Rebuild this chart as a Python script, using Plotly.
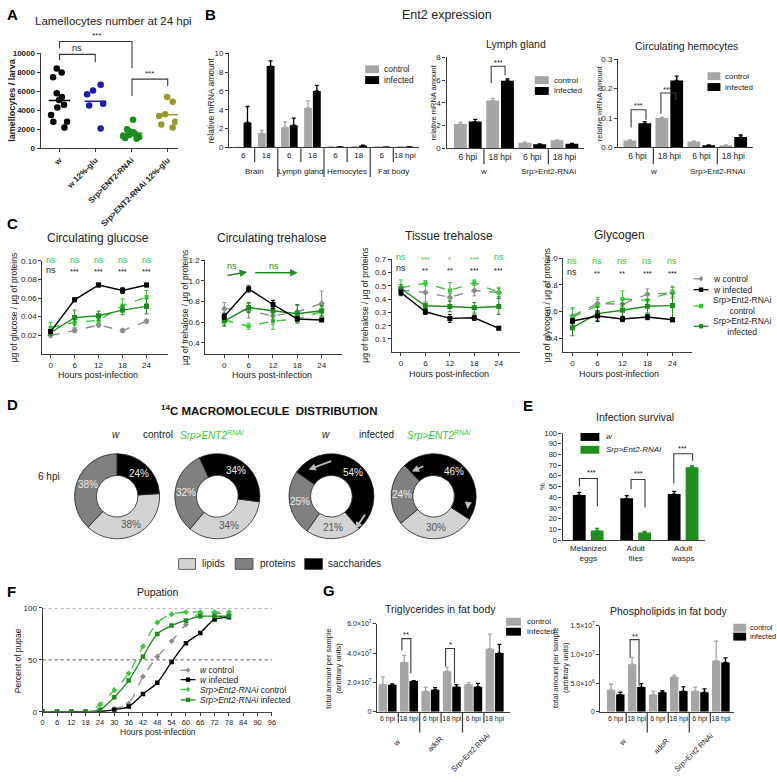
import math
import plotly.graph_objects as go

W, H = 777, 782
def fx(p): return p / W
def fy(p): return 1 - p / H

FONT = "Liberation Sans, Arial, sans-serif"
AX = "#3a3a3a"
CTRL = "#a6a6a6"
INF = "#000000"
LG = "#36c936"
DG = "#1e8c1e"
WC = "#8c8c8c"
EG = "#1f8f1f"

# ---------------- DATA ----------------
# A: lamellocytes
A_labels = ["w", "w 12%-glu", "Srp>ENT2-RNAi", "Srp>ENT2-RNAi 12%-glu"]
A_w = [8400, 8000, 7500, 5800, 5400, 5100, 4600, 4300, 3500, 2800, 2800, 2200]
A_w_glu = [6700, 6100, 5700, 4700, 4500, 2100]
A_srp = [3000, 2000, 1800, 1700, 1600, 1500, 1400, 1300, 1200, 1100, 1000]
A_srp_glu = [5400, 4900, 3600, 3400, 2800, 2500, 2200]
A_colors = ["#000000", "#1c1ca8", "#1e8c1e", "#9a9a2e"]
A_yticks = [0, 2000, 4000, 6000, 8000, 10000]

# B1: Ent2 expression by tissue
B1_ticks = ["6", "18", "6", "18", "6", "18", "6", "18 hpi"]
B1_tissues = ["Brain", "Lymph gland", "Hemocytes", "Fat body"]
B1_ctrl = [0, 1.5, 2.15, 4.2, 0.03, 0.06, 0.01, 0.04]
B1_ctrl_err = [0, 0.3, 0.55, 0.75, 0.01, 0.02, 0.01, 0.01]
B1_inf = [2.65, 8.65, 2.35, 6.0, 0.05, 0.2, 0.02, 0.04]
B1_inf_err = [1.7, 0.55, 0.75, 0.6, 0.01, 0.03, 0.01, 0.01]

# B2: lymph gland
B_ticks = ["6 hpi", "18 hpi", "6 hpi", "18 hpi"]
B_genos = ["w", "Srp>Ent2-RNAi"]
B2_ctrl = [2.15, 4.2, 0.5, 0.7]
B2_ctrl_err = [0.15, 0.2, 0.05, 0.05]
B2_inf = [2.35, 5.95, 0.35, 0.4]
B2_inf_err = [0.2, 0.15, 0.03, 0.03]

# B3: circulating hemocytes
B3_ctrl = [0.023, 0.1, 0.02, 0.007]
B3_ctrl_err = [0.002, 0.002, 0.002, 0.001]
B3_inf = [0.082, 0.228, 0.007, 0.035]
B3_inf_err = [0.006, 0.015, 0.001, 0.007]

# C: metabolites over time
C_hours = [0, 6, 12, 18, 24]
glu_wc = [0.020, 0.025, 0.031, 0.025, 0.035]
glu_wc_err = [0.002, 0.002, 0.002, 0.002, 0.002]
glu_wi = [0.024, 0.058, 0.074, 0.068, 0.074]
glu_wi_err = [0.002, 0.002, 0.002, 0.003, 0.002]
glu_sc = [0.028, 0.034, 0.036, 0.052, 0.061]
glu_sc_err = [0.006, 0.006, 0.003, 0.007, 0.007]
glu_si = [0.023, 0.039, 0.041, 0.047, 0.051]
glu_si_err = [0.003, 0.008, 0.005, 0.005, 0.008]

tre_wc = [0.73, 0.71, 0.66, 0.70, 0.78]
tre_wc_err = [0.06, 0.07, 0.08, 0.06, 0.12]
tre_wi = [0.655, 0.92, 0.77, 0.63, 0.62]
tre_wi_err = [0.03, 0.03, 0.04, 0.02, 0.01]
tre_sc = [0.62, 0.56, 0.61, 0.63, 0.70]
tre_sc_err = [0.05, 0.03, 0.08, 0.03, 0.05]
tre_si = [0.61, 0.74, 0.71, 0.68, 0.71]
tre_si_err = [0.05, 0.05, 0.10, 0.09, 0.05]

tis_wc = [0.47, 0.45, 0.415, 0.465, 0.45]
tis_wc_err = [0.02, 0.07, 0.03, 0.04, 0.03]
tis_wi = [0.45, 0.305, 0.255, 0.26, 0.18]
tis_wi_err = [0.02, 0.02, 0.03, 0.02, 0.01]
tis_sc = [0.485, 0.52, 0.465, 0.525, 0.45]
tis_sc_err = [0.06, 0.02, 0.06, 0.02, 0.04]
tis_si = [0.48, 0.35, 0.345, 0.335, 0.345]
tis_si_err = [0.03, 0.02, 0.04, 0.04, 0.06]

gly_wc = [0.57, 0.66, 0.655, 0.73, 0.74]
gly_wc_err = [0.05, 0.03, 0.04, 0.04, 0.04]
gly_wi = [0.53, 0.567, 0.545, 0.56, 0.54]
gly_wi_err = [0.02, 0.04, 0.02, 0.02, 0.015]
gly_sc = [0.56, 0.645, 0.695, 0.685, 0.75]
gly_sc_err = [0.07, 0.06, 0.06, 0.05, 0.04]
gly_si = [0.48, 0.585, 0.61, 0.64, 0.645]
gly_si_err = [0.06, 0.05, 0.05, 0.05, 0.09]

glu_sig_g = ["ns", "ns", "ns", "ns", "ns"]
glu_sig_k = ["ns", "***", "***", "***", "***"]
tis_sig_g = ["ns", "***", "*", "***", "ns"]
tis_sig_k = ["ns", "**", "**", "***", "***"]
gly_sig_g = ["ns", "ns", "ns", "ns", "ns"]
gly_sig_k = ["ns", "**", "**", "***", "***"]

# D: 14C distribution (lipids, proteins, saccharides)
D_labels = ["lipids", "proteins", "saccharides"]
D_colors = ["#d3d3d3", "#808080", "#000000"]
D_w_ctrl = [38, 38, 24]
D_srp_ctrl = [34, 32, 34]
D_w_inf = [21, 25, 54]
D_srp_inf = [30, 24, 46]

# E: infection survival
E_cats = ["Melanized<br>eggs", "Adult<br>flies", "Adult<br>wasps"]
E_w = [42, 39, 43]
E_w_err = [2.5, 2.5, 2.5]
E_srp = [9, 7, 68]
E_srp_err = [2, 1, 1.5]

# F: pupation
F_hours = [0, 6, 12, 18, 24, 30, 36, 42, 48, 54, 60, 66, 72, 78]
F_wc = [0, 0, 0, 0, 0, 3, 8, 34, 53, 68, 84, 95, 95, 94]
F_wi = [0, 0, 0, 0, 0, 2, 5, 17, 28, 48, 66, 76, 89, 91]
F_sc = [0, 0, 0, 0, 7, 21, 37, 63, 86, 94, 96, 96, 96, 96]
F_si = [0, 0, 0, 0, 2, 14, 30, 53, 75, 83, 88, 92, 92, 92]
F_names = ["<i>w</i> control", "<i>w</i> infected", "<i>Srp>Ent2-RNAi</i> control", "<i>Srp>Ent2-RNAi</i> infected"]

# G: lipids in fat body
G_ticks = ["6 hpi", "18 hpi", "6 hpi", "18 hpi", "6 hpi", "18 hpi"]
G_genos = ["w", "adoR", "Srp>Ent2 RNAi"]
G1_ctrl = [1.87e7, 3.37e7, 1.4e7, 2.76e7, 1.87e7, 4.3e7]
G1_ctrl_err = [0.51e7, 0.47e7, 0.27e7, 0.29e7, 0.11e7, 1.0e7]
G1_inf = [1.85e7, 2.1e7, 1.5e7, 1.7e7, 1.7e7, 4.0e7]
G1_inf_err = [0.05e7, 0.02e7, 0.15e7, 0.15e7, 0.23e7, 0.6e7]
G2_ctrl = [3.8e6, 8.3e6, 3.0e6, 6.1e6, 3.6e6, 8.9e6]
G2_ctrl_err = [1.0e6, 1.2e6, 0.6e6, 0.3e6, 0.7e6, 3.4e6]
G2_inf = [3.0e6, 4.3e6, 3.4e6, 3.6e6, 3.4e6, 8.6e6]
G2_inf_err = [0.4e6, 0.6e6, 0.3e6, 0.8e6, 0.6e6, 0.8e6]
G1_yticks = [0, 2e7, 4e7, 6e7]
G1_ytext = ["0", "2.0×10<sup>7</sup>", "4.0×10<sup>7</sup>", "6.0×10<sup>7</sup>"]
G2_yticks = [0, 5e6, 1e7, 1.5e7]
G2_ytext = ["0", "5.0×10<sup>6</sup>", "1.0×10<sup>7</sup>", "1.5×10<sup>7</sup>"]

# ---------------- HELPERS ----------------
fig = go.Figure()
axes_layout = {}
shapes = []
annotations = []

def ids(n):
    return ('x' if n == 1 else f'x{n}', 'y' if n == 1 else f'y{n}')

def make_axes(n, xpx, ypx, xr, yr, xt=None, yt=None, xfont=8, yfont=8,
              xangle=0, xticks='outside'):
    xa, ya = ids(n)
    xkey = 'xaxis' if n == 1 else f'xaxis{n}'
    ykey = 'yaxis' if n == 1 else f'yaxis{n}'
    common = dict(showline=True, linecolor=AX, linewidth=1.3, ticklen=3, tickwidth=1.2,
                  tickcolor=AX, showgrid=False, zeroline=False, fixedrange=True)
    xd = dict(domain=[fx(xpx[0]), fx(xpx[1])], range=xr, anchor=ya, ticks=xticks,
              tickfont=dict(family=FONT, size=xfont, color='#222'), tickangle=xangle, **common)
    if xt is not None:
        xd.update(tickmode='array', tickvals=xt[0], ticktext=xt[1])
    yd = dict(domain=[fy(ypx[1]), fy(ypx[0])], range=yr, anchor=xa, ticks='outside',
              tickfont=dict(family=FONT, size=yfont, color='#222'), **common)
    if yt is not None:
        yd.update(tickmode='array', tickvals=yt[0], ticktext=yt[1])
    axes_layout[xkey] = xd
    axes_layout[ykey] = yd

def rect(x0, y0, x1, y1, color, line=None):
    shapes.append(dict(type='rect', xref='paper', yref='paper', x0=fx(x0), x1=fx(x1),
                       y0=fy(y1), y1=fy(y0), fillcolor=color,
                       line=dict(width=0.8 if line else 0, color=line or color)))

def seg(x0, y0, x1, y1, color=AX, width=1.2, dash='solid'):
    shapes.append(dict(type='line', xref='paper', yref='paper', x0=fx(x0), y0=fy(y0),
                       x1=fx(x1), y1=fy(y1), line=dict(color=color, width=width, dash=dash)))

def vsep(n, xv, y0, y1):
    xa, _ = ids(n)
    shapes.append(dict(type='line', xref=xa, yref='paper', x0=xv, x1=xv, y0=fy(y0), y1=fy(y1),
                       line=dict(color=AX, width=1.2)))

def text(t, x, y, size=9, color='#222', bold=False, italic=False, xanchor='center',
         yanchor='middle', angle=0, family=FONT):
    if bold:
        t = f'<b>{t}</b>'
    if italic:
        t = f'<i>{t}</i>'
    annotations.append(dict(text=t, x=fx(x), y=fy(y), xref='paper', yref='paper', showarrow=False,
                            xanchor=xanchor, yanchor=yanchor, textangle=angle,
                            font=dict(size=size, color=color, family=family)))

def axis_text(t, n, xv, ypix, size=8, color='#222'):
    xa, _ = ids(n)
    annotations.append(dict(text=t, x=xv, y=fy(ypix), xref=xa, yref='paper', showarrow=False,
                            xanchor='center', yanchor='middle',
                            font=dict(size=size, family=FONT, color=color)))

def bracket(x1, x2, ytop, yb1, yb2, color=AX):
    shapes.append(dict(type='path', xref='paper', yref='paper',
                       path=f'M {fx(x1)},{fy(yb1)} L {fx(x1)},{fy(ytop)} L {fx(x2)},{fy(ytop)} L {fx(x2)},{fy(yb2)}',
                       line=dict(color=color, width=1.1)))

def marker_shape(cx, cy, color, symbol, s=2.2):
    if symbol == 'square':
        rect(cx - s, cy - s, cx + s, cy + s, color)
    else:
        p = f'M {fx(cx)},{fy(cy - s - 0.6)} L {fx(cx + s)},{fy(cy)} L {fx(cx)},{fy(cy + s + 0.6)} L {fx(cx - s)},{fy(cy)} Z'
        shapes.append(dict(type='path', xref='paper', yref='paper', path=p, fillcolor=color,
                           line=dict(width=0, color=color)))

def leg_line(x0, x1, y, color, dash, symbol):
    seg(x0, y, x1, y, color, 1.3, dash)
    marker_shape((x0 + x1) / 2, y, color, symbol)

def bars(n, xs, vals, errs, color, width, offset):
    xa, ya = ids(n)
    fig.add_trace(go.Bar(x=xs, y=vals, width=width, offset=offset, xaxis=xa, yaxis=ya,
                         marker=dict(color=color, line=dict(width=0)), showlegend=False,
                         error_y=dict(type='data', array=errs, arrayminus=[0] * len(errs),
                                      symmetric=False, color=color, thickness=1.3, width=2)))

# ---------------- PANEL A ----------------
make_axes(1, (39, 177), (50, 146), [-0.52, 3.28], [0, 10000],
          xt=([0, 1, 2, 3], [f'<b>{l}</b>' for l in A_labels]),
          yt=(A_yticks, [f'<b>{v}</b>' for v in A_yticks]), xangle=-45)
for i, (vals, col) in enumerate(zip([A_w, A_w_glu, A_srp, A_srp_glu], A_colors)):
    fig.add_trace(go.Box(x=[i] * len(vals), y=vals, boxpoints='all', jitter=1.0, pointpos=0,
                         width=0.55, fillcolor='rgba(0,0,0,0)', line=dict(color='rgba(0,0,0,0)', width=0),
                         marker=dict(color=col, size=6.5), xaxis='x', yaxis='y', showlegend=False))
    m = sum(vals) / len(vals)
    fig.add_trace(go.Scatter(x=[i - 0.3, i + 0.3], y=[m, m], mode='lines', xaxis='x', yaxis='y',
                             line=dict(color=col, width=1.5), showlegend=False))
text('A', 3, 11, 15, '#000', bold=True, xanchor='left')
text('Lamellocytes number at 24 hpi', 112, 17, 11.5)
text('lamellocytes / larva', 10, 97, 9, bold=True, angle=-90)
bracket(58, 131, 38, 45, 65)
text('***', 95, 32, 8)
bracket(58, 94, 51, 57, 59)
text('ns', 76, 45, 9)
bracket(131, 167, 76, 93, 83)
text('***', 149, 70, 8)

# ---------------- PANEL B ----------------
text('B', 203, 11, 15, '#000', bold=True, xanchor='left')
text('Ent2 expression', 448, 11, 12.5)
# B1
make_axes(2, (229, 420), (50, 145), [-0.6, 7.6], [0, 10],
          xt=(list(range(8)), B1_ticks), yt=([0, 2, 4, 6, 8, 10], ['0', '2', '4', '6', '8', '10']),
          xticks='', xfont=8)
bars(2, list(range(8)), B1_ctrl, B1_ctrl_err, CTRL, 0.34, -0.36)
bars(2, list(range(8)), B1_inf, B1_inf_err, INF, 0.34, 0.02)
for k in [0.5, 2.5, 4.5, 6.5]:
    vsep(2, k, 146, 160)
for k in [1.5, 3.5, 5.5]:
    vsep(2, k, 146, 175)
for j, t in enumerate(B1_tissues):
    axis_text(t, 2, 2 * j + 0.5, 169, 8)
text('relative mRNA amount', 211, 97, 8.5, angle=-90)
rect(366, 62, 380, 70, CTRL)
rect(366, 73, 380, 81, INF)
text('control', 383, 66, 8.5, xanchor='left')
text('infected', 383, 77, 8.5, xanchor='left')

# B2
make_axes(3, (448, 587), (54, 146), [-0.66, 3.62], [0, 8],
          xt=([0, 1, 2, 3], B_ticks), yt=([0, 2, 4, 6, 8], ['0', '2', '4', '6', '8']), xticks='', xfont=8.5)
bars(3, [0, 1, 2, 3], B2_ctrl, B2_ctrl_err, CTRL, 0.4, -0.43)
bars(3, [0, 1, 2, 3], B2_inf, B2_inf_err, INF, 0.4, 0.03)
vsep(3, 0.5, 147, 162)
vsep(3, 2.5, 147, 162)
for j, t in enumerate(B_genos):
    axis_text(t, 3, 2 * j + 0.5, 169, 8)
text('Lymph gland', 518, 40, 10.5)
text('relative mRNA amount', 435, 100, 7.5, angle=-90)
rect(537, 73, 551, 81, CTRL)
rect(537, 84, 551, 92, INF)
text('control', 554, 77, 8, xanchor='left')
text('infected', 554, 88, 8, xanchor='left')
bracket(493, 507, 63, 80, 72)
text('***', 500, 59, 7.5)

# B3
make_axes(4, (621, 757), (56, 145), [-0.6, 3.62], [0, 0.3],
          xt=([0, 1, 2, 3], B_ticks), yt=([0, 0.1, 0.2, 0.3], ['0.0', '0.1', '0.2', '0.3']), xticks='', xfont=8.5)
bars(4, [0, 1, 2, 3], B3_ctrl, B3_ctrl_err, CTRL, 0.4, -0.435)
bars(4, [0, 1, 2, 3], B3_inf, B3_inf_err, INF, 0.4, 0.03)
vsep(4, 0.5, 146, 162)
vsep(4, 2.5, 146, 162)
for j, t in enumerate(B_genos):
    axis_text(t, 4, 2 * j + 0.5, 169, 8)
text('Circulating hemocytes', 690, 42, 10.5)
text('relative mRNA amount', 603, 100, 7.5, angle=-90)
rect(711, 69, 724, 77, CTRL)
rect(711, 80, 724, 88, INF)
text('control', 727, 73, 8, xanchor='left')
text('infected', 727, 84, 8, xanchor='left')
bracket(634, 649, 107, 125, 117)
text('***', 641, 103, 7.5)
bracket(664, 679, 90, 111, 97)
text('***', 671, 86, 7.5)

# ---------------- PANEL C ----------------
text('C', 3, 222, 15, '#000', bold=True, xanchor='left')
styles = [(WC, 'dash', 'diamond', 5), (LG, 'dash', 'square', 4), (DG, 'solid', 'square', 5), (INF, 'solid', 'square', 5)]
C_sets = [
    (5, (40.7, 167), (259.7, 354), [-2.06, 29.3], [0, 0.10],
     ([0.02, 0.04, 0.06, 0.08, 0.10], ['0.02', '0.04', '0.06', '0.08', '0.10']),
     [(glu_wc, glu_wc_err), (glu_sc, glu_sc_err), (glu_si, glu_si_err), (glu_wi, glu_wi_err)]),
    (6, (205, 343), (259, 354), [-4.65, 29.1], [0.292, 1.2],
     ([0.4, 0.6, 0.8, 1.0, 1.2], ['0.4', '0.6', '0.8', '1.0', '1.2']),
     [(tre_wc, tre_wc_err), (tre_sc, tre_sc_err), (tre_si, tre_si_err), (tre_wi, tre_wi_err)]),
    (7, (393, 522), (258.3, 352.3), [-2.2, 29.2], [0, 0.7],
     ([0.1, 0.2, 0.3, 0.4, 0.5, 0.6, 0.7], ['0.1', '0.2', '0.3', '0.4', '0.5', '0.6', '0.7']),
     [(tis_wc, tis_wc_err), (tis_sc, tis_sc_err), (tis_si, tis_si_err), (tis_wi, tis_wi_err)]),
    (8, (565.7, 695), (257, 352.3), [-2.2, 28.6], [0.297, 1.0],
     ([0.4, 0.6, 0.8, 1.0], ['0.4', '0.6', '0.8', '1.0']),
     [(gly_wc, gly_wc_err), (gly_sc, gly_sc_err), (gly_si, gly_si_err), (gly_wi, gly_wi_err)]),
]
for n, xpx, ypx, xr, yr, yt, series in C_sets:
    make_axes(n, xpx, ypx, xr, yr, xt=(C_hours, [str(h) for h in C_hours]), yt=yt)
    xa, ya = ids(n)
    for (vals, errs), (col, dash, sym, sz) in zip(series, styles):
        fig.add_trace(go.Scatter(x=C_hours, y=vals, mode='lines+markers', xaxis=xa, yaxis=ya,
                                 line=dict(color=col, width=1.4, dash=dash),
                                 marker=dict(color=col, size=sz, symbol=sym),
                                 error_y=dict(type='data', array=errs, color=col, thickness=1, width=2),
                                 showlegend=False))

text('Circulating glucose', 97, 237, 12)
text('Circulating trehalose', 272, 237, 12)
text('Tissue trehalose', 450, 235, 12)
text('Glycogen', 622, 234, 12)
text('µg of glucose / µg of proteins', 13, 307, 8.5, angle=-90)
text('µg of trehalose / µg of proteins', 185, 307, 8.5, angle=-90)
text('µg of trehalose / µg of proteins', 366, 305, 8.5, angle=-90)
text('µg of glycogen / µg of proteins', 550, 305, 8.5, angle=-90)
for xc, yc in [(97, 375), (272, 375), (450, 374), (622, 374)]:
    text('Hours post-infection', xc, yc, 9)

def sig_row(n, labels, ypix, color):
    for h, lab in zip(C_hours, labels):
        is_ns = lab == 'ns'
        axis_text(lab, n, h, ypix if is_ns else ypix + 2, 9 if is_ns else 7.5, color)

sig_row(5, glu_sig_g, 258.5, LG)
sig_row(5, glu_sig_k, 269, '#222')
sig_row(7, tis_sig_g, 256, LG)
sig_row(7, tis_sig_k, 267.5, '#222')
sig_row(8, gly_sig_g, 260, LG)
sig_row(8, gly_sig_k, 271, '#222')
# trehalose arrows
annotations.append(dict(x=fx(247), y=fy(271), ax=-21, ay=4, xref='paper', yref='paper', text='',
                        showarrow=True, arrowhead=2, arrowsize=1, arrowwidth=1.5, arrowcolor=DG))
annotations.append(dict(x=fx(298), y=fy(272), ax=-44, ay=0, xref='paper', yref='paper', text='',
                        showarrow=True, arrowhead=2, arrowsize=1, arrowwidth=1.5, arrowcolor=DG))
text('ns', 232, 265, 9, DG)
text('ns', 274, 265, 9, DG)
# legend C
leg_line(697, 712, 278, WC, 'dash', 'diamond')
text('w control', 715, 278, 8.5, xanchor='left')
leg_line(697, 712, 289, INF, 'solid', 'square')
text('w infected', 715, 289, 8.5, xanchor='left')
leg_line(697, 712, 305.5, LG, 'dash', 'square')
text('Srp>Ent2-RNAi<br>control', 715, 305.5, 8.5, xanchor='left')
leg_line(697, 712, 326, DG, 'solid', 'square')
text('Srp>Ent2-RNAi<br>infected', 715, 326, 8.5, xanchor='left')

# ---------------- PANEL D ----------------
text('D', 3, 405, 15, '#000', bold=True, xanchor='left')
text('<sup>14</sup>C MACROMOLECULE  DISTRIBUTION', 270, 411, 11.5, '#111', bold=True)
text('w', 115, 436, 10, italic=True)
text('control', 157, 436, 10)
text('Srp>ENT2<sup>RNAi</sup>', 212, 436, 10, LG, italic=True)
text('w', 327, 436, 10, italic=True)
text('infected', 377, 436, 10)
text('Srp>ENT2<sup>RNAi</sup>', 440, 436, 10, LG, italic=True)
text('6 hpi', 47, 478, 10)
D_centers = [116, 217, 332, 435]
D_start = [0, -25, -55, -43]
D_R = 43
D_txt = ['#555555', '#eeeeee', '#eeeeee']
for cx, st, vals in zip(D_centers, D_start, [D_w_ctrl, D_srp_ctrl, D_w_inf, D_srp_inf]):
    rot = st + vals[2] * 3.6
    fig.add_trace(go.Pie(labels=D_labels, values=vals, sort=False, direction='clockwise',
                         rotation=rot, hole=0.49,
                         domain=dict(x=[fx(cx - D_R), fx(cx + D_R)], y=[fy(498 + D_R), fy(498 - D_R)]),
                         marker=dict(colors=D_colors, line=dict(color='#222', width=0.8)),
                         textinfo='none', showlegend=False, hoverinfo='label+value'))
    # percentage labels at the middle of each ring segment
    ang = rot
    total = sum(vals)
    for v, tc in zip(vals, D_txt):
        span = v / total * 360
        mid = math.radians(ang + span / 2)
        r = D_R * 0.745
        text(f'{v}%', cx + r * math.sin(mid), 498 - r * math.cos(mid), 10, tc)
        ang += span
# curved-arrow hints
for (hx, hy, axp, ayp) in [(309, 471, 24, -9), (356, 531, 11, -16), (413, 473, 13, -6), (469, 511, 1, -7)]:
    annotations.append(dict(x=fx(hx), y=fy(hy), ax=axp, ay=ayp, xref='paper', yref='paper', text='',
                            showarrow=True, arrowhead=2, arrowsize=0.8, arrowwidth=1.8, arrowcolor='#bdbdbd'))
rect(178, 561, 195, 572, D_colors[0], line='#444')
text('lipids', 200, 566, 10, xanchor='left')
rect(235, 561, 253, 572, D_colors[1], line='#444')
text('proteins', 258, 566, 10, xanchor='left')
rect(305, 561, 323, 572, D_colors[2], line='#444')
text('saccharides', 327, 566, 10, xanchor='left')

# ---------------- PANEL E ----------------
text('E', 523, 406, 15, '#000', bold=True, xanchor='left')
text('Infection survival', 638, 418, 10.5)
make_axes(9, (565, 708), (434, 542.3), [-0.54, 2.45], [0, 100],
          xt=([0, 1, 2], E_cats), yt=(list(range(0, 101, 10)), [str(v) for v in range(0, 101, 10)]),
          xticks='', xfont=8, yfont=7.5)
bars(9, [0, 1, 2], E_w, E_w_err, INF, 0.27, -0.325)
bars(9, [0, 1, 2], E_srp, E_srp_err, EG, 0.27, 0.052)
text('%', 545, 488, 8, angle=-90)
rect(583, 434, 602, 442, INF)
rect(583, 447, 602, 455, EG)
text('w', 607, 438, 8, italic=True, xanchor='left')
text('Srp>Ent2-RNAi', 607, 451, 8, italic=True, xanchor='left')
bracket(582, 600, 480, 488, 508)
text('***', 594, 474, 7.5)
bracket(634, 648, 481, 491, 509)
text('***', 641, 475, 7.5)
bracket(677, 696, 455, 485, 462)
text('***', 686, 450, 7.5)

# ---------------- PANEL F ----------------
text('F', 3, 594, 15, '#000', bold=True, xanchor='left')
text('Pupation', 157, 595, 10.5)
make_axes(10, (41, 272), (611, 716), [0, 96], [0, 100],
          xt=(list(range(0, 97, 6)), [str(v) for v in range(0, 97, 6)]),
          yt=([0, 50, 100], ['0', '50', '100']), xfont=7.5)
for yv in [50, 100]:
    shapes.append(dict(type='line', xref='x10', yref='y10', x0=0, x1=96, y0=yv, y1=yv,
                       line=dict(color='#555', width=1, dash='dot')))
F_styles = [(WC, 'dash', 'diamond', 4.5), (INF, 'solid', 'square', 4.5), (LG, 'dash', 'diamond', 4.5), (DG, 'solid', 'square', 4.5)]
for vals, (col, dash, sym, sz) in zip([F_wc, F_wi, F_sc, F_si], F_styles):
    fig.add_trace(go.Scatter(x=F_hours, y=vals, mode='lines+markers', xaxis='x10', yaxis='y10',
                             line=dict(color=col, width=1.3, dash=dash, shape='spline', smoothing=0.8),
                             marker=dict(color=col, size=sz, symbol=sym), showlegend=False))
text('Percent of pupae', 16, 664, 8.5, angle=-90)
text('Hours post-infection', 157, 736, 8.5)
for (col, dash, sym, _), name, yy in zip(F_styles, F_names, [674, 683.5, 693.5, 704]):
    leg_line(180, 195, yy, col, dash, sym)
    text(name, 198, yy, 8.5, xanchor='left')

# ---------------- PANEL G ----------------
text('G', 321, 593, 15, '#000', bold=True, xanchor='left')
make_axes(11, (378, 512), (627, 716), [-0.49, 5.72], [0, 6e7],
          xt=(list(range(6)), G_ticks), yt=(G1_yticks, G1_ytext), xticks='', xfont=7, yfont=7)
bars(11, list(range(6)), G1_ctrl, G1_ctrl_err, CTRL, 0.4, -0.42)
bars(11, list(range(6)), G1_inf, G1_inf_err, INF, 0.4, 0.02)
make_axes(12, (603, 738), (629, 716), [-0.73, 5.64], [0, 1.5e7],
          xt=(list(range(6)), G_ticks), yt=(G2_yticks, G2_ytext), xticks='', xfont=7, yfont=7)
bars(12, list(range(6)), G2_ctrl, G2_ctrl_err, CTRL, 0.4, -0.42)
bars(12, list(range(6)), G2_inf, G2_inf_err, INF, 0.4, 0.02)
for n in [11, 12]:
    for k in [0.5, 2.5, 4.5]:
        vsep(n, k, 716, 727)
    for k in [1.5, 3.5]:
        vsep(n, k, 716, 737)
text('Triglycerides in fat body', 442, 612, 10.5)
text('Phospholipids in fat body', 672, 614, 10.5)
text('total amount per sample<br>(arbitrary units)', 334, 672, 7.5, angle=-90)
text('total amount per sample<br>(arbitrary units)', 563, 672, 7.5, angle=-90)
for (cx, cy), g in zip([(398, 747), (437, 748), (472, 757)], G_genos):
    text(g, cx, cy, 7.5, angle=-45)
for (cx, cy), g in zip([(625, 747), (665, 750), (697, 757)], G_genos):
    text(g, cx, cy, 7.5, angle=-45)
rect(508, 621, 523, 629, CTRL)
rect(508, 631, 523, 639, INF)
text('control', 527, 625, 8, xanchor='left')
text('infected', 527, 635, 8, xanchor='left')
rect(737, 627, 750, 635, CTRL)
rect(737, 636, 750, 644, INF)
text('control', 752, 631, 7.5, xanchor='left')
text('infected', 752, 640, 7.5, xanchor='left')
bracket(403, 412, 642, 654, 677)
text('**', 407.5, 638, 7.5)
bracket(447, 456, 652, 670, 687)
text('*', 451.5, 648, 7.5)
bracket(633, 642, 643, 661, 690)
text('**', 637.5, 640, 7.5)

fig.update_layout(width=W, height=H, margin=dict(l=0, r=0, t=0, b=0),
                  paper_bgcolor='white', plot_bgcolor='white', barmode='overlay',
                  showlegend=False, font=dict(family=FONT, color='#222'),
                  shapes=shapes, annotations=annotations, **axes_layout)
fig.write_html("out.html", config={'displayModeBar': False},
               post_script="document.body.style.margin='0px';document.body.style.overflow='hidden';")
